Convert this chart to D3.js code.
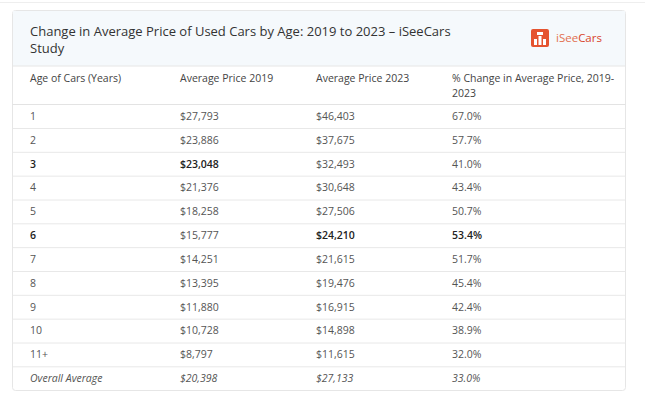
<!DOCTYPE html>
<html>
<head>
<meta charset="utf-8">
<script src="https://cdn.jsdelivr.net/npm/d3@7/dist/d3.min.js"></script>
<style>
  html, body { margin: 0; padding: 0; background: #ffffff; }
  svg { display: block; font-family: "Open Sans", sans-serif; }
</style>
</head>
<body>
<svg id="chart" width="645" height="403"></svg>
<script>
const title = ["Change in Average Price of Used Cars by Age: 2019 to 2023 – iSeeCars", "Study"];
const headers = [["Age of Cars (Years)"], ["Average Price 2019"], ["Average Price 2023"], ["% Change in Average Price, 2019-", "2023"]];
const ages = ["1", "2", "3", "4", "5", "6", "7", "8", "9", "10", "11+", "Overall Average"];
const price2019 = ["$27,793", "$23,886", "$23,048", "$21,376", "$18,258", "$15,777", "$14,251", "$13,395", "$11,880", "$10,728", "$8,797", "$20,398"];
const price2023 = ["$46,403", "$37,675", "$32,493", "$30,648", "$27,506", "$24,210", "$21,615", "$19,476", "$16,915", "$14,898", "$11,615", "$27,133"];
const pctChange = ["67.0%", "57.7%", "41.0%", "43.4%", "50.7%", "53.4%", "51.7%", "45.4%", "42.4%", "38.9%", "32.0%", "33.0%"];
const boldCells = [[2,0],[2,1],[5,0],[5,2],[5,3]];

const svg = d3.select("#chart");
const card = {x: 12.5, y: 10.5, w: 613, h: 380};
const headerBandH = 55;
const headRowBottom = 104;
const bodyBottom = 390;
const fs = "10.5px";

// faint top line
svg.append("line").attr("x1", 0).attr("x2", 645).attr("y1", 2.5).attr("y2", 2.5)
  .attr("stroke", "#eeeeee");

// card
svg.append("rect").attr("x", card.x).attr("y", card.y).attr("width", card.w).attr("height", card.h)
  .attr("fill", "#ffffff").attr("stroke", "#e6e6e6").attr("rx", 3);
svg.append("rect").attr("x", card.x + 0.5).attr("y", card.y + 0.5).attr("width", card.w - 1).attr("height", headerBandH)
  .attr("fill", "#f5f9fc");
svg.append("line").attr("x1", card.x).attr("x2", card.x + card.w)
  .attr("y1", card.y + headerBandH + 0.5).attr("y2", card.y + headerBandH + 0.5).attr("stroke", "#e6e6e6");

// title
svg.append("text").attr("x", 30).attr("y", 36).attr("fill", "#333333")
  .style("font-size", "13px")
  .selectAll("tspan").data(title).join("tspan")
  .attr("x", 30).attr("dy", (d, i) => i === 0 ? 0 : 17).text(d => d);

// logo
const logo = svg.append("g").attr("transform", "translate(531,29)");
logo.append("rect").attr("width", 18).attr("height", 18).attr("rx", 2).attr("fill", "#e5532f");
const bars = [[3, 10, 3, 6], [7.5, 7, 3, 9], [12, 10, 3, 6]];
logo.selectAll(".b").data(bars).join("rect")
  .attr("x", d => d[0]).attr("y", d => d[1]).attr("width", d => d[2]).attr("height", d => d[3]).attr("fill", "#ffffff");
logo.append("rect").attr("x", 6).attr("y", 3).attr("width", 6).attr("height", 3).attr("fill", "#ffffff");
const lt = svg.append("text").attr("x", 556).attr("y", 42).style("font-size", "11.5px");
lt.append("tspan").attr("fill", "#e2704f").text("iSee");
lt.append("tspan").attr("fill", "#d9452b").text("Cars");

// columns
const colX = d3.scaleOrdinal().domain([0,1,2,3]).range([30, 180, 316, 452]);

// header row
const hdr = svg.append("g");
headers.forEach((lines, c) => {
  hdr.append("text").attr("fill", "#444444").style("font-size", fs).attr("y", 82)
    .selectAll("tspan").data(lines).join("tspan")
    .attr("x", colX(c)).attr("dy", (d, i) => i === 0 ? 0 : 15).text(d => d);
});
svg.append("line").attr("x1", card.x).attr("x2", card.x + card.w)
  .attr("y1", headRowBottom + 0.5).attr("y2", headRowBottom + 0.5).attr("stroke", "#e3e3e3");

// body
const y = d3.scaleBand().domain(d3.range(ages.length)).range([headRowBottom, bodyBottom]);
const rows = svg.append("g").selectAll("g").data(ages).join("g")
  .attr("transform", (d, i) => `translate(0,${y(i)})`);
rows.filter((d, i) => i < ages.length - 1).append("line")
  .attr("x1", card.x).attr("x2", card.x + card.w)
  .attr("y1", Math.round(y.bandwidth()) + 0.5).attr("y2", Math.round(y.bandwidth()) + 0.5)
  .attr("stroke", "#e8e8e8");

const cols = [ages, price2019, price2023, pctChange];
const isBold = (r, c) => boldCells.some(b => b[0] === r && b[1] === c);
rows.each(function(d, r) {
  const g = d3.select(this);
  cols.forEach((arr, c) => {
    g.append("text").attr("x", colX(c)).attr("y", y.bandwidth() / 2 + 4)
      .style("font-size", fs)
      .style("font-weight", isBold(r, c) ? "600" : "400")
      .style("font-style", r === ages.length - 1 ? "italic" : "normal")
      .attr("fill", isBold(r, c) ? "#222222" : "#555555")
      .text(arr[r]);
  });
});
</script>
</body>
</html>
